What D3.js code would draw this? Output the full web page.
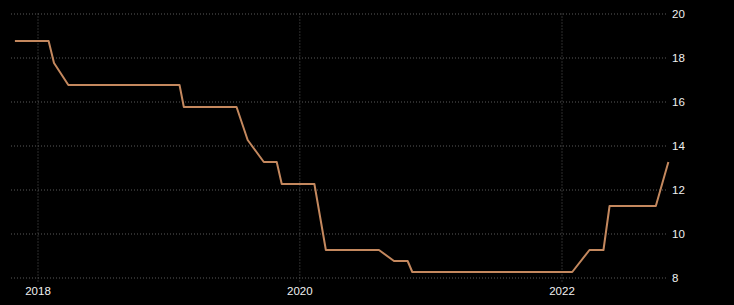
<!DOCTYPE html>
<html>
<head>
<meta charset="utf-8">
<script src="https://cdn.jsdelivr.net/npm/d3@7"></script>
<style>
  html, body { margin: 0; padding: 0; background: #000; }
  svg { display: block; }
  .tick text { font-family: "Liberation Sans", Arial, sans-serif; font-size: 11.5px; fill: #f0f0f0; }
</style>
</head>
<body>
<div id="graph"></div>
<script>
// rate observations (date, percent)
var dates = ["2017-10-30", "2018-02-01", "2018-02-16", "2018-03-28", "2019-02-01", "2019-02-13",
             "2019-07-10", "2019-08-10", "2019-09-24", "2019-10-30", "2019-11-13", "2020-02-12",
             "2020-03-15", "2020-08-10", "2020-09-21", "2020-10-29", "2020-11-11", "2022-01-31",
             "2022-03-20", "2022-04-28", "2022-05-15", "2022-09-21", "2022-10-26"];
var rates = [18.75, 18.75, 17.75, 16.75, 16.75, 15.75,
             15.75, 14.25, 13.25, 13.25, 12.25, 12.25,
             9.25, 9.25, 8.75, 8.75, 8.25, 8.25,
             9.25, 9.25, 11.25, 11.25, 13.25];
var yTicks = [8, 10, 12, 14, 16, 18, 20];
var xTicks = ["2018-01-01", "2020-01-01", "2022-01-01"];

var parse = d3.timeParse("%Y-%m-%d");
var data = dates.map(function (d, i) {
  return { date: parse(d), rate: rates[i] };
});

var width = 734, height = 305;
var svg = d3.select("#graph")
    .append("svg")
    .attr("width", width)
    .attr("height", height);

var x = d3.scaleTime()
    .domain([parse(xTicks[0]), parse(xTicks[2])])
    .range([37.5, 561.5]);
var y = d3.scaleLinear()
    .domain([8, 20])
    .range([277.5, 13.5]);

var gridLeft = 11, gridRight = 668;

// horizontal grid + right axis labels
var yAxis = svg.append("g")
    .attr("transform", "translate(" + gridRight + ",0)")
    .call(d3.axisRight(y).tickValues(yTicks).tickSize(0).tickPadding(4).tickFormat(d3.format("d")));
yAxis.select(".domain").remove();
yAxis.selectAll(".tick line")
    .attr("x1", gridLeft - gridRight)
    .attr("x2", 0)
    .attr("stroke", "#5a5a5a")
    .attr("stroke-dasharray", "1,2");

// vertical grid + bottom axis labels
var xAxis = svg.append("g")
    .attr("transform", "translate(0,283)")
    .call(d3.axisBottom(x).tickValues(xTicks.map(parse)).tickSize(0).tickPadding(4).tickFormat(d3.timeFormat("%Y")));
xAxis.select(".domain").remove();
xAxis.selectAll(".tick line")
    .attr("y1", 13.5 - 283)
    .attr("y2", 0)
    .attr("stroke", "#5a5a5a")
    .attr("stroke-dasharray", "1,2");

var line = d3.line()
    .x(function (d) { return x(d.date); })
    .y(function (d) { return y(d.rate); });

svg.append("path")
    .datum(data)
    .attr("d", line)
    .attr("fill", "none")
    .attr("stroke", "#c4885e")
    .attr("stroke-width", 2)
    .attr("stroke-linejoin", "round");
</script>
</body>
</html>
